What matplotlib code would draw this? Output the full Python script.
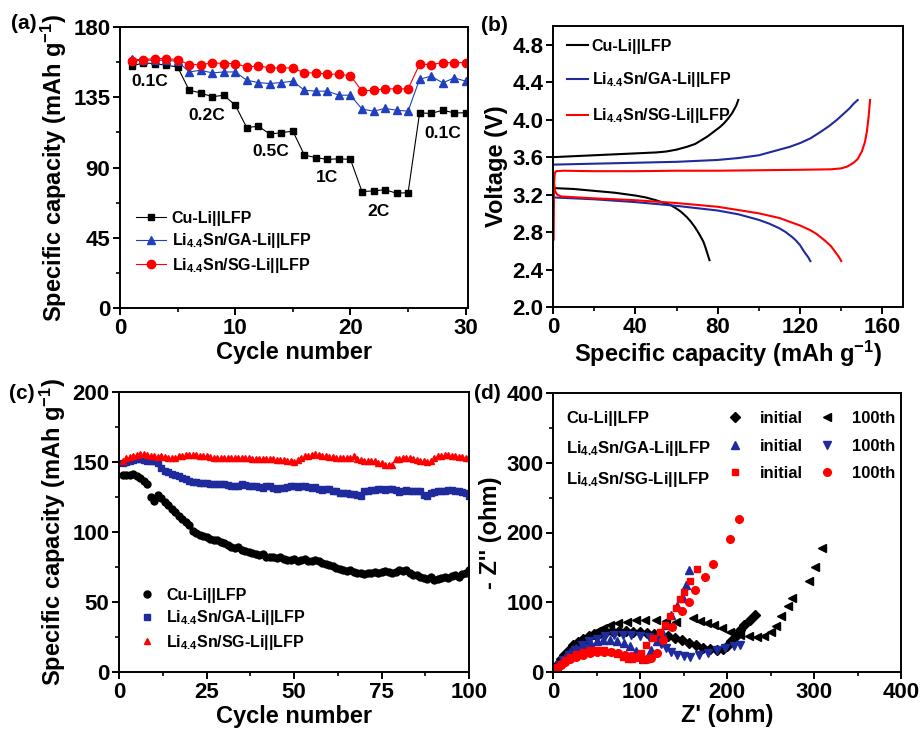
import matplotlib
matplotlib.use("Agg")
import matplotlib.pyplot as plt
from matplotlib.lines import Line2D
from matplotlib.ticker import MultipleLocator

plt.rcParams.update({
    'font.family': ['Liberation Sans', 'DejaVu Sans'],
    'font.weight': 'bold',
    'axes.labelweight': 'bold',
    'mathtext.fontset': 'custom',
    'mathtext.rm': 'Liberation Sans:bold',
    'mathtext.it': 'Liberation Sans:bold',
    'mathtext.bf': 'Liberation Sans:bold',
    'mathtext.default': 'rm',
    'axes.linewidth': 1.4,
})

# ---------------- labels ----------------
lab_cu = 'Cu-Li||LFP'
lab_ga = r'Li$_{4.4}$Sn/GA-Li||LFP'
lab_sg = r'Li$_{4.4}$Sn/SG-Li||LFP'

BLUE_A = '#2040c0'
BLUE = '#1f2a9c'
RED = '#ff0000'

# ---------------- panel (a) data ----------------
cycles_a = list(range(1, 31))
cap_a_cu = [154.9, 157.0, 156.6, 155.5, 154.4, 139.5, 137.8, 135.3, 136.3, 130.0,
            115.5, 116.5, 111.4, 112.3, 113.3, 98.0, 96.3, 95.2, 95.6, 95.2,
            74.6, 75.0, 75.8, 73.5, 73.9, 125.0, 124.6, 126.7, 125.0, 125.0]
cap_a_ga = [159.8, 158.7, 158.7, 158.7, 158.0, 151.2, 152.3, 150.6, 151.2, 151.2,
            145.9, 144.4, 143.8, 144.4, 145.3, 139.5, 138.9, 138.9, 136.3, 136.3,
            127.4, 126.1, 127.8, 126.7, 126.1, 146.6, 148.5, 144.2, 147.4, 145.3]
cap_a_sg = [158.0, 159.1, 159.8, 159.8, 159.1, 155.9, 155.9, 157.0, 156.6, 156.6,
            154.4, 155.1, 153.8, 153.8, 153.8, 150.6, 150.6, 149.8, 149.8, 148.7,
            139.1, 139.5, 140.4, 140.4, 140.4, 156.2, 155.9, 157.2, 157.2, 157.2]
rate_labels = ['0.1C', '0.2C', '0.5C', '1C', '2C', '0.1C']
rate_x = [2.6, 7.5, 13.1, 18.0, 22.4, 28.0]
rate_y = [145.4, 123.6, 100.0, 83.9, 62.0, 112.0]

# ---------------- panel (b) data ----------------
b_cu_ch_x = [0, 10, 20, 30, 40, 50, 55, 60, 65, 69, 72, 75, 78, 81, 83, 85, 87, 89, 90]
b_cu_ch_v = [3.60, 3.61, 3.62, 3.63, 3.64, 3.65, 3.66, 3.68, 3.71, 3.74, 3.78, 3.82, 3.87,
             3.92, 3.96, 4.01, 4.07, 4.15, 4.21]
b_cu_dis_x = [0, 10, 20, 30, 40, 45, 50, 54, 57, 60, 62, 65, 67, 69, 71, 73, 74, 75, 76]
b_cu_dis_v = [3.27, 3.26, 3.24, 3.22, 3.19, 3.17, 3.14, 3.11, 3.09, 3.05, 3.02, 2.96, 2.91,
              2.85, 2.78, 2.70, 2.64, 2.57, 2.50]
b_ga_ch_x = [0, 20, 40, 60, 80, 90, 100, 105, 110, 115, 120, 125, 130, 134, 138, 141, 144, 146, 148]
b_ga_ch_v = [3.52, 3.53, 3.54, 3.55, 3.57, 3.59, 3.62, 3.65, 3.68, 3.71, 3.75, 3.80, 3.87,
             3.93, 4.00, 4.06, 4.12, 4.17, 4.21]
b_ga_dis_x = [0, 20, 40, 60, 80, 90, 95, 100, 105, 110, 113, 116, 118, 120, 122, 124, 125]
b_ga_dis_v = [3.17, 3.15, 3.12, 3.08, 3.03, 2.99, 2.96, 2.93, 2.89, 2.84, 2.80, 2.75, 2.71,
              2.66, 2.59, 2.53, 2.49]
b_sg_ch_x = [0.3, 0.4, 0.5, 0.8, 1.5, 5, 20, 40, 60, 80, 100, 120, 135, 140, 143, 146, 148,
             150, 151.5, 152.5, 153.3, 154]
b_sg_ch_v = [2.72, 3.0, 3.30, 3.42, 3.45, 3.455, 3.45, 3.45, 3.455, 3.455, 3.46, 3.465, 3.47,
             3.48, 3.50, 3.54, 3.58, 3.66, 3.76, 3.88, 4.03, 4.21]
b_sg_dis_x = [0.2, 0.5, 1.0, 2.0, 4, 20, 40, 60, 80, 100, 110, 115, 120, 125, 128, 132, 135,
              137, 139, 140]
b_sg_dis_v = [3.44, 3.32, 3.24, 3.20, 3.18, 3.16, 3.14, 3.11, 3.07, 3.00, 2.95, 2.91, 2.87,
              2.82, 2.78, 2.71, 2.65, 2.59, 2.53, 2.49]

# ---------------- panel (c) data ----------------
cycles_c = list(range(1, 101))
cap_c_cu = [141, 140.5, 141, 141.5, 140, 138.5, 136.5, 134.5, 125, 122,
            126.5, 124.5, 121.5, 119, 116.5, 114, 111.5, 109.5, 107, 105,
            100.5, 99.5, 98, 97.5, 96.5, 95, 94.5, 94, 93, 92,
            90.5, 89, 88.5, 89, 87.5, 86.5, 86, 85, 84, 83.5,
            84, 82.5, 82, 82.5, 81.5, 82, 80.5, 80, 80, 80.5,
            79.5, 80, 80.5, 79.5, 79.5, 80, 79, 78, 77.5, 76.5,
            75.5, 74.5, 73.5, 73, 72.5, 73, 71.5, 71, 70.5, 70,
            71, 71, 71.5, 70.5, 71.5, 72, 71.5, 70.5, 71.5, 73,
            72, 73, 71, 69.5, 69, 68, 67.5, 66.5, 68, 65.5,
            66.5, 67, 68, 67.5, 68.5, 69, 68, 70, 71, 73]
cap_c_ga = [149.5, 150, 151, 151.5, 152, 152, 151.5, 151, 150.5, 150.5,
            149.5, 146, 143.5, 142.5, 141.5, 141, 140, 138.5, 137.5, 136.5,
            135.5, 135.5, 135, 135, 135, 134.5, 134, 134, 134.5, 134,
            133.5, 133, 132.5, 133, 134, 133.5, 133, 133, 132.5, 132,
            131.5, 133, 132.5, 131.5, 131, 131.5, 131.5, 132, 132.5, 132.5,
            132, 133, 132.5, 132, 131.5, 132, 130.5, 130, 131, 130.5,
            129.5, 129, 128, 128, 127.5, 127, 127, 126.5, 126, 129,
            129.5, 130, 130, 130.5, 130.5, 130, 130.5, 131, 130, 128.5,
            129.5, 130, 129.5, 129.5, 129.5, 129, 126.5, 126, 128, 128.5,
            129, 129.5, 129.5, 130, 130, 129, 129, 128.5, 127.5, 126]
cap_c_sg = [151, 152.5, 153.5, 154.5, 155, 155.5, 155.5, 155, 154.5, 154,
            153.5, 154, 153.5, 153, 152.5, 153, 154, 154.5, 155, 155,
            155, 155, 154.5, 154.5, 154, 153.5, 153, 152.5, 152.5, 152.5,
            152.5, 152.5, 152.5, 152.5, 152.5, 152.5, 152.5, 152, 152, 152,
            152, 152, 152, 152, 151.5, 151.5, 151.5, 151, 150.5, 150,
            151.5, 153, 154, 154.5, 155, 155.5, 155, 154.5, 154, 153.5,
            153.5, 153, 153, 152.5, 152.5, 152.5, 154, 152, 151.5, 151,
            150.5, 150.5, 150.5, 149.5, 149, 148, 148, 147.5, 152, 152,
            152.5, 152.5, 152.5, 152, 151.5, 151, 150.5, 150, 150.5, 152.5,
            154, 154.5, 155, 155, 154.5, 154, 153.5, 153.5, 153, 153]

# ---------------- panel (d) data ----------------
d_cu_i_x = [2, 5, 9, 13, 18, 23, 29, 35, 41, 47, 54, 61, 68, 76, 84, 92, 100, 108, 116, 124,
            132, 140, 148, 156, 164, 172, 180, 188, 195, 200, 205, 210, 215, 220, 226, 232]
d_cu_i_y = [3, 10, 18, 25, 32, 38, 43, 47, 51, 54, 56, 57.5, 58.5, 59, 58.5, 58, 57, 56.5, 55,
            53.5, 51, 48.5, 45.5, 42, 38, 35, 32.5, 31.5, 33, 37, 44, 52, 60, 67, 75, 82]
d_cu_h_x = [3, 7, 12, 19, 26, 34, 42, 50, 58, 66, 75, 85, 95, 106, 118, 130, 141, 161, 169,
            177, 185, 194, 204, 215, 225, 234, 242, 250, 256, 262, 270, 275, 294, 301, 309]
d_cu_h_y = [4, 12, 20, 30, 38, 46, 53, 59, 63, 67, 70, 72, 74, 75, 74, 73, 71, 77, 73, 70, 68,
            63, 58, 53, 51, 50, 52, 58, 66, 80, 94, 106, 130, 151, 178]
d_ga_i_x = [2, 5, 9, 14, 20, 27, 34, 42, 50, 58, 66, 74, 82, 89, 95, 100, 104, 108, 113, 119,
            125, 130, 136, 143, 149, 153, 156]
d_ga_i_y = [2, 8, 14, 21, 28, 34, 39, 43, 45, 46, 46, 45, 42, 37, 30, 23, 18, 20, 32, 44, 58,
            68, 82, 95, 106, 125, 146]
d_ga_h_x = [3, 7, 12, 18, 25, 33, 41, 50, 60, 70, 80, 90, 100, 110, 118, 124, 130, 136, 142,
            150, 158, 168, 178, 188, 198, 208, 215]
d_ga_h_y = [3, 10, 17, 25, 32, 39, 44, 48, 51, 53, 53, 53, 52, 50, 46, 40, 34, 28, 25, 23, 22,
            24, 27, 31, 34, 37, 39]
d_sg_i_x = [2, 5, 9, 14, 20, 27, 35, 43, 51, 59, 67, 74, 80, 86, 91, 96, 101, 107, 115, 123,
            129, 134, 141, 146, 150, 157, 165]
d_sg_i_y = [2, 7, 12, 17, 22, 26, 29, 31, 32, 31, 29, 26, 22, 19, 18, 21, 27, 39, 49, 58, 68,
            80, 92, 104, 114, 130, 147]
d_sg_h_x = [2, 5, 9, 14, 20, 27, 35, 43, 51, 59, 67, 75, 83, 90, 96, 102, 108, 113, 119, 127,
            137, 148, 156, 163, 175, 184, 204, 214]
d_sg_h_y = [2, 6, 10, 14, 18, 22, 25, 27, 28, 28.5, 28, 27, 25, 23, 21, 19, 18, 20, 27, 46,
            65, 87, 101, 117, 136, 155, 191, 219]

# ---------------- figure ----------------
W, H = 921, 734
fig = plt.figure(figsize=(W / 100, H / 100), dpi=100)


def pos(l, t, r, b):
    return [l / W, 1 - b / H, (r - l) / W, (b - t) / H]


TICK_FS = 16
LAB_FS = 17
LEG_FS = 11.5


def style(ax):
    ax.tick_params(which='major', direction='out', length=5, width=1.4,
                   labelsize=TICK_FS, pad=2)
    ax.tick_params(which='minor', direction='out', length=3, width=1.2)
    for lab in ax.get_xticklabels() + ax.get_yticklabels():
        lab.set_fontweight('bold')


# ---- (a) ----
axa = fig.add_axes(pos(120, 27, 468, 308))
axa.plot(cycles_a, cap_a_cu, '-s', color='black', lw=0.8, ms=5, label=lab_cu)
axa.plot(cycles_a, cap_a_ga, '-^', color=BLUE_A, lw=0.8, ms=6, label=lab_ga)
axa.plot(cycles_a, cap_a_sg, '-o', color=RED, lw=0.8, ms=6, label=lab_sg)
for t, x, y in zip(rate_labels, rate_x, rate_y):
    axa.text(x, y, t, fontsize=12.5, fontweight='bold', ha='center', va='center')
axa.set_xlim(0, 30.2)
axa.set_ylim(0, 180)
axa.xaxis.set_major_locator(MultipleLocator(10))
axa.xaxis.set_minor_locator(MultipleLocator(5))
axa.yaxis.set_major_locator(MultipleLocator(45))
axa.yaxis.set_minor_locator(MultipleLocator(22.5))
axa.set_xlabel('Cycle number', fontsize=LAB_FS, labelpad=2)
axa.set_ylabel(r'Specific capacity (mAh g$^{-1}$)', fontsize=LAB_FS, labelpad=3)
axa.legend(loc='upper left', bbox_to_anchor=(0.045, 0.345), frameon=False,
           fontsize=LEG_FS, handlelength=1.9, handletextpad=0.35, labelspacing=0.33,
           borderpad=0, borderaxespad=0)
style(axa)

# ---- (b) ----
axb = fig.add_axes(pos(553, 26, 903, 307))
axb.plot(b_cu_ch_x, b_cu_ch_v, color='black', lw=1.5, label=lab_cu)
axb.plot(b_cu_dis_x, b_cu_dis_v, color='black', lw=1.5)
axb.plot(b_ga_ch_x, b_ga_ch_v, color=BLUE, lw=1.5, label=lab_ga)
axb.plot(b_ga_dis_x, b_ga_dis_v, color=BLUE, lw=1.5)
axb.plot(b_sg_ch_x, b_sg_ch_v, color=RED, lw=1.5, label=lab_sg)
axb.plot(b_sg_dis_x, b_sg_dis_v, color=RED, lw=1.5)
axb.set_xlim(0, 170)
axb.set_ylim(2.0, 5.0)
axb.set_xticks([0, 40, 80, 120, 160])
axb.xaxis.set_minor_locator(MultipleLocator(20))
axb.set_yticks([2.0, 2.4, 2.8, 3.2, 3.6, 4.0, 4.4, 4.8])
axb.yaxis.set_major_formatter(matplotlib.ticker.FormatStrFormatter('%.1f'))
axb.set_xlabel(r'Specific capacity (mAh g$^{-1}$)', fontsize=LAB_FS, labelpad=1)
axb.set_ylabel('Voltage (V)', fontsize=LAB_FS, labelpad=3)
axb.legend(loc='upper left', bbox_to_anchor=(0.04, 0.955), frameon=False,
           fontsize=LEG_FS, handlelength=1.3, handletextpad=0.25, labelspacing=1.05,
           borderpad=0, borderaxespad=0)
style(axb)

# ---- (c) ----
axc = fig.add_axes(pos(119, 392, 469, 672))
axc.plot(cycles_c, cap_c_cu, 'o', color='black', ms=5, ls='none', label=lab_cu)
axc.plot(cycles_c, cap_c_ga, 's', color=BLUE, ms=4, ls='none', label=lab_ga)
axc.plot(cycles_c, cap_c_sg, '^', color=RED, ms=4.5, ls='none', label=lab_sg)
axc.set_xlim(0, 100)
axc.set_ylim(0, 200)
axc.xaxis.set_major_locator(MultipleLocator(25))
axc.xaxis.set_minor_locator(MultipleLocator(12.5))
axc.yaxis.set_major_locator(MultipleLocator(50))
axc.yaxis.set_minor_locator(MultipleLocator(25))
axc.set_xlabel('Cycle number', fontsize=LAB_FS, labelpad=2)
axc.set_ylabel(r'Specific capacity (mAh g$^{-1}$)', fontsize=LAB_FS, labelpad=3)
axc.legend(loc='upper left', bbox_to_anchor=(0.057, 0.30), frameon=False,
           fontsize=LEG_FS, handlelength=1.0, handletextpad=0.7, labelspacing=0.33,
           borderpad=0, borderaxespad=0, numpoints=1)
style(axc)

# ---- (d) ----
axd = fig.add_axes(pos(553, 393, 901, 672))
h_cu_i, = axd.plot(d_cu_i_x, d_cu_i_y, 'D', color='black', ms=5, ls='none')
h_cu_h, = axd.plot(d_cu_h_x, d_cu_h_y, '<', color='black', ms=6, ls='none')
h_ga_i, = axd.plot(d_ga_i_x, d_ga_i_y, '^', color=BLUE, ms=6, ls='none')
h_ga_h, = axd.plot(d_ga_h_x, d_ga_h_y, 'v', color=BLUE, ms=6, ls='none')
h_sg_i, = axd.plot(d_sg_i_x, d_sg_i_y, 's', color=RED, ms=5, ls='none')
h_sg_h, = axd.plot(d_sg_h_x, d_sg_h_y, 'o', color=RED, ms=5.5, ls='none')
axd.set_xlim(0, 400)
axd.set_ylim(0, 400)
axd.xaxis.set_major_locator(MultipleLocator(100))
axd.xaxis.set_minor_locator(MultipleLocator(50))
axd.yaxis.set_major_locator(MultipleLocator(100))
axd.yaxis.set_minor_locator(MultipleLocator(50))
axd.set_xlabel("Z' (ohm)", fontsize=LAB_FS, labelpad=1)
axd.set_ylabel("- Z'' (ohm)", fontsize=LAB_FS, labelpad=3)
blank = Line2D([], [], ls='none', marker=None)
handles = [blank, blank, blank, h_cu_i, h_ga_i, h_sg_i, h_cu_h, h_ga_h, h_sg_h]
labels = [lab_cu, lab_ga, lab_sg, 'initial', 'initial', 'initial', '100th', '100th', '100th']
axd.legend(handles, labels, ncol=3, loc='upper left', bbox_to_anchor=(-0.058, 0.935),
           frameon=False, fontsize=12, handlelength=1.0, handletextpad=1.0,
           columnspacing=0.95, labelspacing=0.75, borderpad=0, borderaxespad=0,
           numpoints=1)
style(axd)

# panel letters
for txt, x, y in [('(a)', 11, 14), ('(b)', 481, 16), ('(c)', 9, 384), ('(d)', 474, 384)]:
    fig.text(x / W, 1 - y / H, txt, fontsize=15, fontweight='bold', va='top', ha='left')

fig.savefig('out.png', dpi=100)
